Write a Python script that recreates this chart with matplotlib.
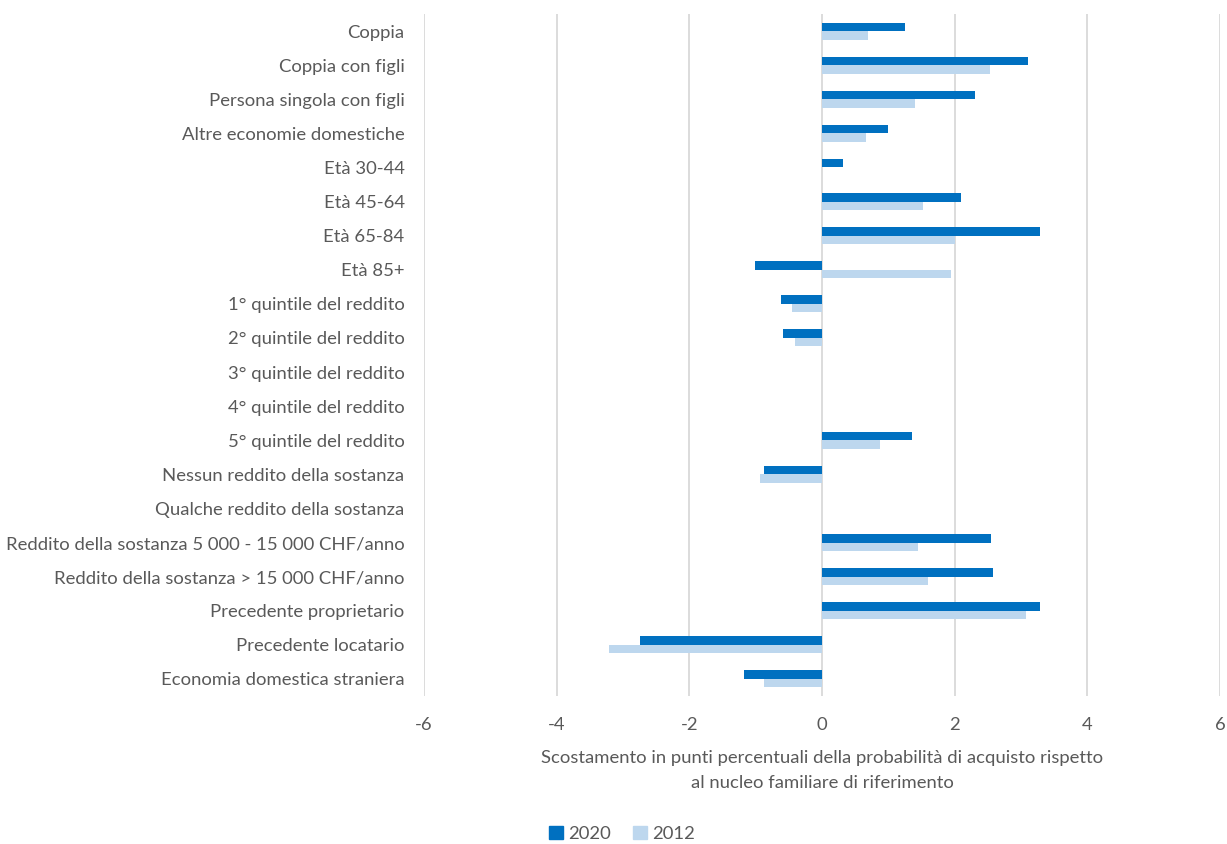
import numpy as np
import matplotlib
matplotlib.use('Agg')
import matplotlib.pyplot as plt
import matplotlib.patches as mpatches

# Categories and deviations (percentage points) for both survey years
categories = [
    'Coppia',
    'Coppia con figli',
    'Persona singola con figli',
    'Altre economie domestiche',
    'Età 30-44',
    'Età 45-64',
    'Età 65-84',
    'Età 85+',
    '1° quintile del reddito',
    '2° quintile del reddito',
    '3° quintile del reddito',
    '4° quintile del reddito',
    '5° quintile del reddito',
    'Nessun reddito della sostanza',
    'Qualche reddito della sostanza',
    'Reddito della sostanza 5 000 - 15 000 CHF/anno',
    'Reddito della sostanza > 15 000 CHF/anno',
    'Precedente proprietario',
    'Precedente locatario',
    'Economia domestica straniera',
]
values_2020 = [1.25, 3.11, 2.30, 0.99, 0.31, 2.09, 3.29, -1.01, -0.62, -0.59,
               0, 0, 1.35, -0.88, 0, 2.55, 2.58, 3.29, -2.74, -1.18]
values_2012 = [0.69, 2.53, 1.40, 0.67, 0, 1.53, 2.00, 1.95, -0.45, -0.40,
               0, 0, 0.88, -0.94, 0, 1.45, 1.60, 3.07, -3.21, -0.88]
series_labels = ['2020', '2012']
x_ticks = [-6, -4, -2, 0, 2, 4, 6]

DARK = '#0070C0'
LIGHT = '#BDD7EE'
GRID = '#D9D9D9'
TEXT = '#595959'
FONT = 'Lato'
FS = 13.3

fig = plt.figure(figsize=(12.27, 8.44), dpi=100)
ax = fig.add_axes([424 / 1227, 1 - 696 / 844, (1220 - 424) / 1227, (696 - 14) / 844])

y = np.arange(len(categories))
h = 0.25
ax.barh(y - h / 2, values_2020, height=h, color=DARK, zorder=3)
ax.barh(y + h / 2, values_2012, height=h, color=LIGHT, zorder=3)

ax.set_xlim(-6, 6)
ax.set_ylim(len(categories) - 0.5, -0.5)
ax.set_xticks(x_ticks)
ax.set_xticklabels([str(t) for t in x_ticks], fontsize=FS, color=TEXT, family=FONT)
ax.set_yticks(y)
ax.set_yticklabels(categories, fontsize=FS, color=TEXT, family=FONT)
ax.tick_params(length=0)
ax.tick_params(axis='x', pad=15)
ax.tick_params(axis='y', pad=14)
ax.grid(axis='x', color=GRID, linewidth=1.3, zorder=0)
for s in ax.spines.values():
    s.set_visible(False)

ax.set_xlabel('Scostamento in punti percentuali della probabilità di acquisto rispetto\n'
              'al nucleo familiare di riferimento',
              fontsize=FS, color=TEXT, family=FONT, labelpad=12, linespacing=1.75)

handles = [mpatches.Patch(color=DARK), mpatches.Patch(color=LIGHT)]
fig.legend(handles, series_labels, loc='center', bbox_to_anchor=(622 / 1227, 1 - 834 / 844),
           ncol=2, frameon=False, handlelength=0.75, handleheight=0.75,
           handletextpad=0.3, columnspacing=1.2,
           prop={'family': FONT, 'size': FS}, labelcolor=TEXT)

fig.savefig('out.png', dpi=100, facecolor='white')
